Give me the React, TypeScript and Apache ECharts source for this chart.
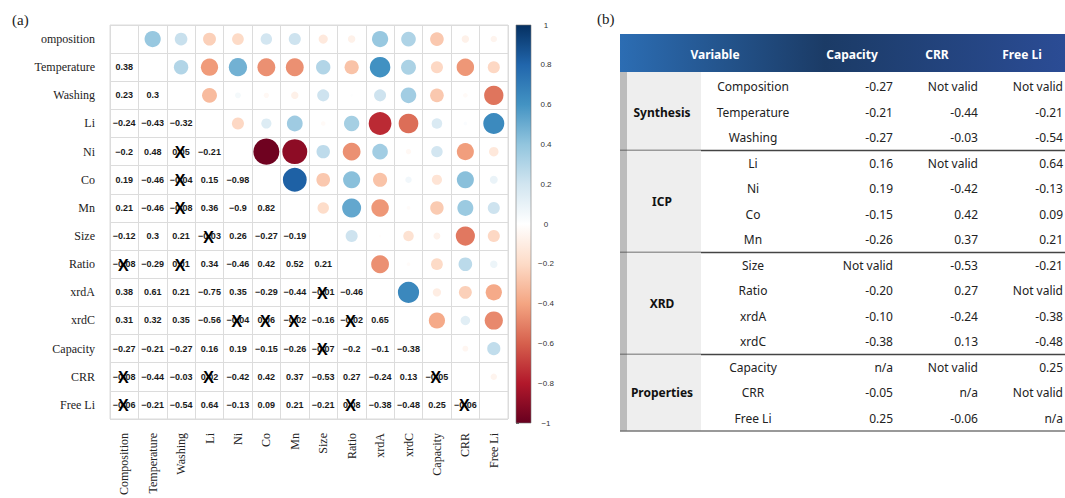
import React, { useEffect, useRef } from "react";
import * as echarts from "echarts";

// ---------- Data: correlation matrix (a) ----------
const varNames = ["Composition", "Temperature", "Washing", "Li", "Ni", "Co", "Mn", "Size", "Ratio", "xrdA", "xrdC", "Capacity", "CRR", "Free Li"];
const rowLabels = ["omposition", "Temperature", "Washing", "Li", "Ni", "Co", "Mn", "Size", "Ratio", "xrdA", "xrdC", "Capacity", "CRR", "Free Li"];
// lower triangle, row i has values for columns 0..i-1
const lowerValues: number[][] = [
  [],
  [0.38],
  [0.23, 0.3],
  [-0.24, -0.43, -0.32],
  [-0.2, 0.48, 0.05, -0.21],
  [0.19, -0.46, -0.04, 0.15, -0.98],
  [0.21, -0.46, -0.08, 0.36, -0.9, 0.82],
  [-0.12, 0.3, 0.21, -0.03, 0.26, -0.27, -0.19],
  [-0.08, -0.29, 0.01, 0.34, -0.46, 0.42, 0.52, 0.21],
  [0.38, 0.61, 0.21, -0.75, 0.35, -0.29, -0.44, -0.01, -0.46],
  [0.31, 0.32, 0.35, -0.56, -0.04, 0.06, -0.02, -0.16, -0.02, 0.65],
  [-0.27, -0.21, -0.27, 0.16, 0.19, -0.15, -0.26, -0.07, -0.2, -0.1, -0.38],
  [-0.08, -0.44, -0.03, 0.02, -0.42, 0.42, 0.37, -0.53, 0.27, -0.24, 0.13, -0.05],
  [-0.06, -0.21, -0.54, 0.64, -0.13, 0.09, 0.21, -0.21, 0.08, -0.38, -0.48, 0.25, -0.06],
];
// [row, col] pairs marked as not significant
const insignificant: [number, number][] = [
  [4, 2], [5, 2], [6, 2], [7, 3], [8, 0], [8, 2], [9, 7], [10, 4], [10, 5], [10, 6], [10, 8],
  [11, 7], [12, 0], [12, 3], [12, 11], [13, 0], [13, 8], [13, 12],
];
const colorbarTicks = [-1, -0.8, -0.6, -0.4, -0.2, 0, 0.2, 0.4, 0.6, 0.8, 1];
const rdbu = ["#67001F", "#B2182B", "#D6604D", "#F4A582", "#FDDBC7", "#FFFFFF", "#D1E5F0", "#92C5DE", "#4393C3", "#2166AC", "#053061"];

// ---------- Data: table (b) ----------
const tableHeaders = ["Variable", "Capacity", "CRR", "Free Li"];
const tableVars = ["Composition", "Temperature", "Washing", "Li", "Ni", "Co", "Mn", "Size", "Ratio", "xrdA", "xrdC", "Capacity", "CRR", "Free Li"];
const capacityCol = ["-0.27", "-0.21", "-0.27", "0.16", "0.19", "-0.15", "-0.26", "Not valid", "-0.20", "-0.10", "-0.38", "n/a", "-0.05", "0.25"];
const crrCol = ["Not valid", "-0.44", "-0.03", "Not valid", "-0.42", "0.42", "0.37", "-0.53", "0.27", "-0.24", "0.13", "Not valid", "n/a", "-0.06"];
const freeLiCol = ["Not valid", "-0.21", "-0.54", "0.64", "-0.13", "0.09", "0.21", "-0.21", "Not valid", "-0.38", "-0.48", "0.25", "Not valid", "n/a"];
const groupNames = ["Synthesis", "ICP", "XRD", "Properties"];
const groupStart = [0, 3, 7, 11];
const groupEnd = [2, 6, 10, 13];

function hexToRgb(h: string) {
  const n = parseInt(h.slice(1), 16);
  return [(n >> 16) & 255, (n >> 8) & 255, n & 255];
}
function corrColor(v: number) {
  const t = Math.max(0, Math.min(10, ((v + 1) / 2) * 10));
  const i = Math.min(9, Math.floor(t));
  const f = t - i;
  const a = hexToRgb(rdbu[i]);
  const b = hexToRgb(rdbu[i + 1]);
  const c = a.map((x, k) => Math.round(x + (b[k] - x) * f));
  return `rgb(${c[0]},${c[1]},${c[2]})`;
}
function fmt(v: number) {
  return v < 0 ? "\u2212" + String(Math.abs(v)) : String(v);
}

export default function App() {
  const ref = useRef<HTMLDivElement>(null);
  useEffect(() => {
    if (!ref.current) return;
    const chart = echarts.init(ref.current, undefined, { renderer: "svg" });

    const circleData: number[][] = [];
    const textData: number[][] = [];
    for (let i = 0; i < lowerValues.length; i++) {
      for (let j = 0; j < lowerValues[i].length; j++) {
        const v = lowerValues[i][j];
        const sig = insignificant.some((p) => p[0] === i && p[1] === j) ? 1 : 0;
        textData.push([j, i, v, sig]);
        circleData.push([i, j, v]); // mirrored into upper triangle
      }
    }

    const serif = "Liberation Serif";
    const sans = "Noto Sans";
    const splitStyle = { show: true, interval: 0, lineStyle: { color: "#dcdcdc", width: 1 } };

    const option: any = {
      animation: false,
      backgroundColor: "#ffffff",
      grid: [
        { left: 110, top: 25, width: 398, height: 398, show: true, borderColor: "#dcdcdc", borderWidth: 1 },
        { left: 516, top: 25, width: 15, height: 398, show: false },
        { left: 620, top: 74, width: 445, height: 357, show: false },
      ],
      xAxis: [
        {
          gridIndex: 0, type: "category", data: varNames, position: "bottom",
          axisLine: { show: false }, axisTick: { show: false },
          axisLabel: { rotate: 90, interval: 0, margin: 14, fontFamily: serif, fontSize: 12, color: "#222" },
          splitLine: splitStyle,
        },
        { gridIndex: 1, type: "value", min: 0, max: 1, show: false },
        { gridIndex: 2, type: "value", min: 0, max: 445, show: false },
      ],
      yAxis: [
        {
          gridIndex: 0, type: "category", data: rowLabels, inverse: true,
          axisLine: { show: false }, axisTick: { show: false },
          axisLabel: { interval: 0, margin: 15, fontFamily: serif, fontSize: 12, color: "#222" },
          splitLine: splitStyle,
        },
        {
          gridIndex: 1, type: "value", min: -1, max: 1, interval: 0.2, position: "right",
          axisLine: { show: false },
          axisTick: { show: true, length: 3, lineStyle: { color: "#666" } },
          axisLabel: {
            margin: 15, align: "center", fontFamily: "Liberation Sans", fontSize: 8, color: "#333",
            formatter: (v: number) => {
              const r = Math.round(v * 10) / 10;
              return colorbarTicks.includes(r) ? fmt(r) : "";
            },
          },
          splitLine: { show: false },
        },
        { gridIndex: 2, type: "category", data: tableVars, inverse: true, show: false },
      ],
      series: [
        {
          type: "scatter", xAxisIndex: 0, yAxisIndex: 0, silent: true,
          data: circleData,
          symbol: "circle",
          symbolSize: (d: number[]) => Math.sqrt(Math.abs(d[2])) * 26.3,
          itemStyle: { color: (p: any) => corrColor(p.data[2]), opacity: 1 },
        },
        {
          type: "custom", xAxisIndex: 0, yAxisIndex: 0, silent: true,
          data: textData,
          renderItem: (params: any, api: any) => {
            const p = api.coord([api.value(0), api.value(1)]);
            const v = api.value(2);
            const children: any[] = [
              {
                type: "text", x: p[0], y: p[1],
                style: {
                  text: fmt(v), fill: "#1a1a1a", fontFamily: "Liberation Sans", fontWeight: "bold", fontSize: 9,
                  align: "center", verticalAlign: "middle", textAlign: "center", textVerticalAlign: "middle",
                },
              },
            ];
            if (api.value(3) === 1) {
              children.push({
                type: "text", x: p[0] - 1, y: p[1] + 1,
                style: {
                  text: "X", fill: "#000", fontFamily: "Liberation Sans", fontWeight: "bold", fontSize: 16,
                  align: "center", verticalAlign: "middle", textAlign: "center", textVerticalAlign: "middle",
                },
              });
            }
            return { type: "group", children };
          },
        },
        {
          type: "custom", xAxisIndex: 1, yAxisIndex: 1, silent: true,
          data: [[0.5, 0]],
          renderItem: (params: any, api: any) => {
            const top = api.coord([0, 1]);
            const bot = api.coord([0, -1]);
            const cs = params.coordSys;
            const stops = rdbu.slice().reverse().map((c, k) => ({ offset: k / (rdbu.length - 1), color: c }));
            return {
              type: "rect",
              shape: { x: cs.x, y: top[1], width: cs.width, height: bot[1] - top[1] },
              style: { fill: new echarts.graphic.LinearGradient(0, 0, 0, 1, stops), stroke: "#777", lineWidth: 0.6 },
            };
          },
        },
        // table header
        {
          type: "custom", xAxisIndex: 2, yAxisIndex: 2, silent: true,
          data: [[0, 0]],
          renderItem: (params: any, api: any) => {
            const cs = params.coordSys;
            const centers = [95, 232, 317, 402];
            const children: any[] = [
              {
                type: "rect",
                shape: { x: cs.x, y: cs.y - 40, width: cs.width, height: 38 },
                style: {
                  fill: new echarts.graphic.LinearGradient(0, 0, 1, 0, [
                    { offset: 0, color: "#2c6db3" },
                    { offset: 0.46, color: "#1b3b66" },
                    { offset: 1, color: "#2b4c95" },
                  ]),
                },
              },
            ];
            tableHeaders.forEach((h, k) => {
              children.push({
                type: "text", x: cs.x + centers[k], y: cs.y - 20,
                style: {
                  text: h, fill: "#ffffff", fontFamily: sans, fontWeight: "bold", fontSize: 12,
                  align: "center", verticalAlign: "middle", textAlign: "center", textVerticalAlign: "middle",
                },
              });
            });
            return { type: "group", children };
          },
        },
        // table groups
        {
          type: "custom", xAxisIndex: 2, yAxisIndex: 2, silent: true,
          data: groupNames.map((_, g) => [0, groupStart[g], groupEnd[g], g]),
          renderItem: (params: any, api: any) => {
            const cs = params.coordSys;
            const h = api.size([0, 1])[1];
            const yTop = api.coord([0, api.value(1)])[1] - h / 2;
            const yBot = api.coord([0, api.value(2)])[1] + h / 2;
            const g = api.value(3);
            const isLast = g === groupNames.length - 1;
            return {
              type: "group",
              children: [
                { type: "rect", shape: { x: cs.x, y: yTop - (g === 0 ? 2 : 0), width: 7, height: yBot - yTop + (g === 0 ? 2 : 0) }, style: { fill: "#bcbcbc" } },
                { type: "rect", shape: { x: cs.x + 7, y: yTop - (g === 0 ? 2 : 0), width: 74, height: yBot - yTop + (g === 0 ? 2 : 0) }, style: { fill: "#eeeeee" } },
                {
                  type: "text", x: cs.x + 42, y: (yTop + yBot) / 2,
                  style: {
                    text: groupNames[g], fill: "#111", fontFamily: sans, fontWeight: "bold", fontSize: 12,
                    align: "center", verticalAlign: "middle", textAlign: "center", textVerticalAlign: "middle",
                  },
                },
                {
                  type: "line",
                  shape: { x1: cs.x, y1: yBot, x2: cs.x + cs.width, y2: yBot },
                  style: { stroke: isLast ? "#777" : "#444", lineWidth: 1.5 },
                },
              ],
            };
          },
        },
        // table rows
        {
          type: "custom", xAxisIndex: 2, yAxisIndex: 2, silent: true,
          data: tableVars.map((_, i) => [0, i]),
          renderItem: (params: any, api: any) => {
            const cs = params.coordSys;
            const i = api.value(1);
            const y = api.coord([0, i])[1];
            const base = { fill: "#222", fontFamily: sans, fontSize: 12, verticalAlign: "middle", textVerticalAlign: "middle" };
            return {
              type: "group",
              children: [
                { type: "text", x: cs.x + 133, y, style: { ...base, text: tableVars[i], align: "center", textAlign: "center" } },
                { type: "text", x: cs.x + 273, y, style: { ...base, text: capacityCol[i], align: "right", textAlign: "right" } },
                { type: "text", x: cs.x + 358, y, style: { ...base, text: crrCol[i], align: "right", textAlign: "right" } },
                { type: "text", x: cs.x + 443, y, style: { ...base, text: freeLiCol[i], align: "right", textAlign: "right" } },
              ],
            };
          },
        },
      ],
      graphic: [
        { type: "text", left: 12, top: 12, style: { text: "(a)", fill: "#222", fontFamily: serif, fontSize: 15 } },
        { type: "text", left: 597, top: 11, style: { text: "(b)", fill: "#222", fontFamily: serif, fontSize: 15 } },
      ],
    };

    chart.setOption(option);
    return () => chart.dispose();
  }, []);

  return <div ref={ref} style={{ position: "absolute", left: 0, top: 0, width: 1065, height: 498 }} />;
}
